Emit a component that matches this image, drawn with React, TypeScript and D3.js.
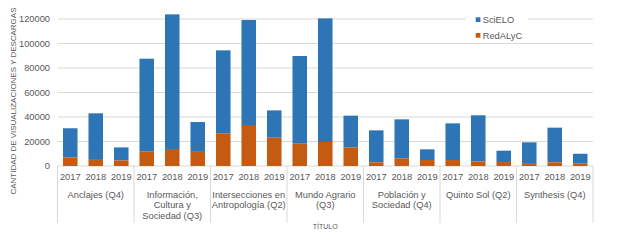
import React from "react";
import * as d3 from "d3";

const groups = [
  ["Anclajes (Q4)"],
  ["Información,", "Cultura y", "Sociedad (Q3)"],
  ["Intersecciones en", "Antropología (Q2)"],
  ["Mundo Agrario", "(Q3)"],
  ["Población y", "Sociedad (Q4)"],
  ["Quinto Sol (Q2)"],
  ["Synthesis (Q4)"],
];
const years = ["2017", "2018", "2019"];
// totals (SciELO + RedALyC stacked)
const redalyc = [7000, 5000, 4600, 11700, 13900, 12200, 26700, 32700, 23100, 18200, 19600, 15200, 3000, 6300, 4900, 4900, 3800, 3300, 2400, 3000, 1900];
const totals = [30800, 43000, 15200, 87600, 123800, 35900, 94400, 119200, 45400, 89800, 120500, 41100, 29100, 38100, 13600, 34800, 41400, 12500, 19300, 31300, 10000];
const scielo = totals.map((t, i) => t - redalyc[i]);
const yTicks = [0, 20000, 40000, 60000, 80000, 100000, 120000];
const seriesNames = ["SciELO", "RedALyC"];
const colors = ["#2e75b6", "#c55a11"];

const W = 623, H = 248;
const x0 = 57.5, x1 = 593, yBase = 166, yTop = 19;

export default function App() {
  const n = totals.length;
  const x = d3.scaleBand<number>().domain(d3.range(n)).range([x0, x1]).paddingInner(0.43).paddingOuter(0.215);
  const y = d3.scaleLinear().domain([0, 120000]).range([yBase, yTop]);
  const gw = (x1 - x0) / groups.length;
  const font = "Liberation Sans, Arial, sans-serif";
  const grey = "#595959";
  const fs = 9.3;
  return (
    <div style={{ position: "fixed", left: 0, top: 0 }}>
      <svg width={W} height={H} style={{ display: "block", background: "#fff" }} fontFamily={font}>
        {yTicks.map((t) => (
          <g key={t}>
            <line x1={x0} x2={x1} y1={y(t)} y2={y(t)} stroke="#d9d9d9" strokeWidth={1} />
            <text x={50} y={y(t)} dy="0.35em" textAnchor="end" fontSize={fs} fill={grey}>{t}</text>
          </g>
        ))}
        {d3.range(groups.length + 1).map((g) => (
          <line key={g} x1={x0 + g * gw} x2={x0 + g * gw} y1={yBase} y2={223} stroke="#d9d9d9" strokeWidth={1} />
        ))}
        {d3.range(n).map((i) => (
          <g key={i}>
            <rect x={x(i)} width={x.bandwidth()} y={y(totals[i])} height={y(redalyc[i]) - y(totals[i])} fill={colors[0]} />
            <rect x={x(i)} width={x.bandwidth()} y={y(redalyc[i])} height={yBase - y(redalyc[i])} fill={colors[1]} />
            <text x={(x(i) as number) + x.bandwidth() / 2} y={180.2} textAnchor="middle" fontSize={fs} fill={grey}>{years[i % 3]}</text>
          </g>
        ))}
        {groups.map((lines, g) => (
          <text key={g} x={x0 + (g + 0.5) * gw} y={197.6} textAnchor="middle" fontSize={fs} fill={grey}>
            {lines.map((l, k) => (
              <tspan key={k} x={x0 + (g + 0.5) * gw} dy={k === 0 ? 0 : 10.7}>{l}</tspan>
            ))}
          </text>
        ))}
        <text x={(x0 + x1) / 2} y={229.3} textAnchor="middle" fontSize={7} fill={grey}>TÍTULO</text>
        <text transform={`translate(15.5,101) rotate(-90)`} textAnchor="middle" fontSize={8} fill={grey} textLength={187} lengthAdjust="spacing">CANTIDAD DE VISUALIZACIONES Y DESCARGAS</text>
        <rect x={466} y={11} width={62} height={32} fill="#fff" />
        {seriesNames.map((s, k) => (
          <g key={s}>
            <rect x={475.7} y={17.3 + k * 15.7} width={4.7} height={4.7} fill={colors[k]} />
            <text x={482.7} y={19.7 + k * 15.7} dy="0.35em" fontSize={fs} fill={grey}>{s}</text>
          </g>
        ))}
      </svg>
    </div>
  );
}
